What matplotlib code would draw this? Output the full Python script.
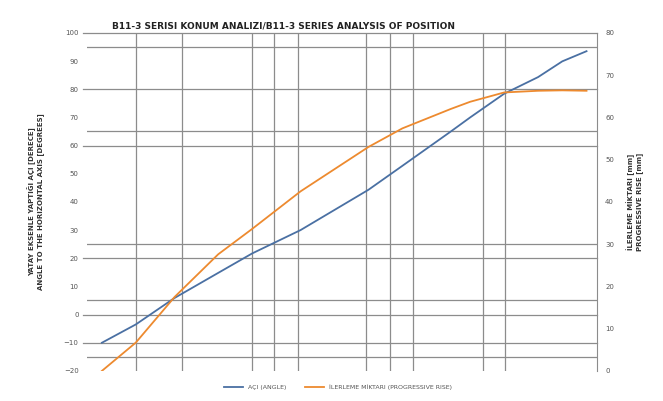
import numpy as np
import matplotlib.pyplot as plt

# data (x = relative position along the series)
pos = [0, 7, 15, 24, 31, 41, 55, 62, 72, 76, 83, 90, 95, 100]
angle = [-10, -3.5, 5.9, 14.8, 21.7, 30.0, 44.3, 52.8, 65.0, 70.0, 78.4, 84.3, 89.9, 93.5]
rise = [0, 6.7, 17.5, 27.6, 33.6, 42.5, 53.0, 57.4, 62.0, 63.7, 65.9, 66.3, 66.4, 66.3]

vlines = [7.0, 16.5, 30.9, 35.5, 40.4, 54.6, 59.4, 64.1, 78.6, 83.1]
hmajor = [100, 80, 60, 20, 0, -10]
hminor = [95, 65, 25, 5, -15]

title = 'B11-3 SERISI KONUM ANALIZI/B11-3 SERIES ANALYSIS OF POSITION'
ylab_left = 'YATAY EKSENLE YAPTIĞI AÇI [DERECE]\nANGLE TO THE HORIZONTAL AXIS [DEGREES]'
ylab_right = 'İLERLEME MİKTARI [mm]\nPROGRESSIVE RISE [mm]'
leg_labels = ['AÇI (ANGLE)', 'İLERLEME MİKTARI (PROGRESSIVE RISE)']

blue = '#4a70a3'
orange = '#ed8a2f'
gridc = '#8c8c8c'
txtc = '#555555'

fig = plt.figure(figsize=(6.63, 4.01), dpi=100)
ax = fig.add_axes([0.131, 0.075, 0.769, 0.843])
ax2 = ax.twinx()

for v in vlines:
    ax.axvline(v, color=gridc, lw=0.9, zorder=1)
for h in hmajor:
    ax.axhline(h, color=gridc, lw=0.9, zorder=1, xmin=-0.008, clip_on=False)
for h in hminor:
    ax.axhline(h, color=gridc, lw=0.9, zorder=1)

l1, = ax.plot(pos, angle, color=blue, lw=1.3, zorder=3)
l2, = ax2.plot(pos, rise, color=orange, lw=1.3, zorder=3)

ax.set_xlim(-3.1, 102.1)
ax.set_ylim(-20, 100)
ax.set_yticks(np.arange(-20, 101, 10))
ax2.set_ylim(0, 80)
ax2.set_yticks(np.arange(0, 81, 10))
ax.set_xticks([])

for a in (ax, ax2):
    for s in ['top', 'left', 'bottom']:
        a.spines[s].set_visible(False)
    a.spines['right'].set_color(gridc)
    a.tick_params(axis='y', length=0, labelsize=5, labelcolor=txtc, pad=6)
ax.spines['right'].set_visible(False)

ax.set_ylabel(ylab_left, fontsize=5, fontweight='bold', color='#333333', labelpad=14)
ax2.set_ylabel(ylab_right, fontsize=5, fontweight='bold', color='#333333', labelpad=9,
               rotation=90, va='top')
ax.set_title(title, fontsize=6.5, fontweight='bold', color='#222222', loc='left', x=0.05, pad=3)

fig.legend([l1, l2], leg_labels, loc='center', bbox_to_anchor=(0.51, 0.035), ncol=2,
           frameon=False, fontsize=4.5, handlelength=3, columnspacing=3, labelcolor=txtc)

fig.savefig('out.png', dpi=100)
